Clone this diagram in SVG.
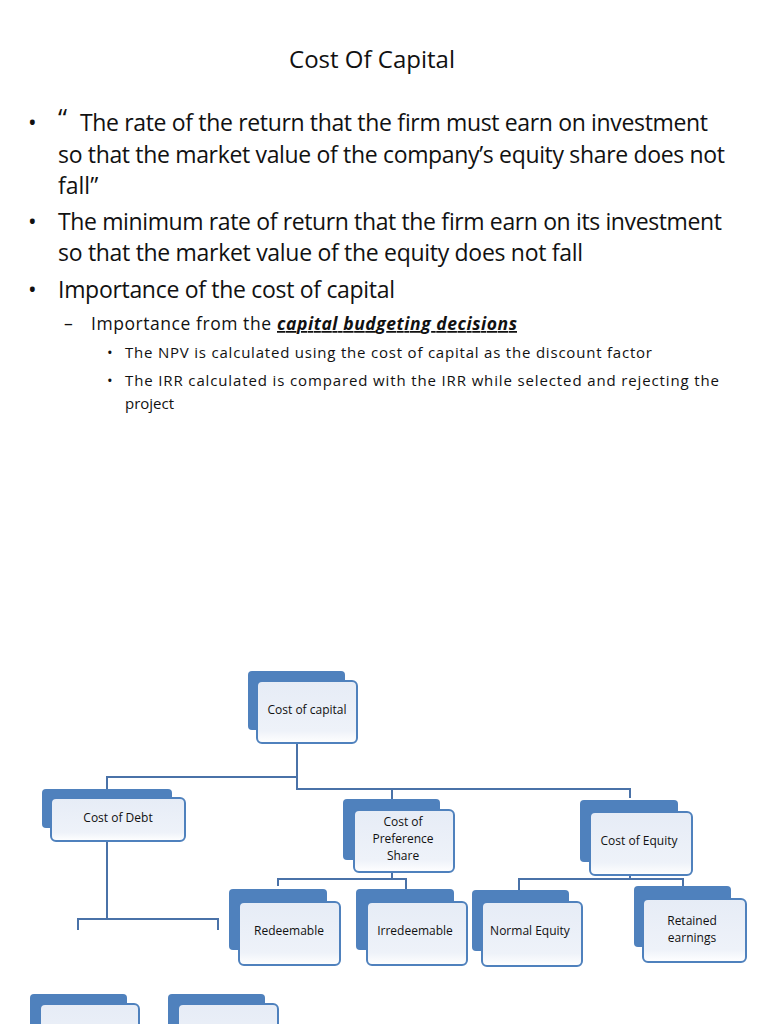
<svg xmlns="http://www.w3.org/2000/svg" width="768" height="1024" viewBox="0 0 768 1024">
<defs>
<linearGradient id="g" x1="0" y1="0" x2="0" y2="1"><stop offset="0" stop-color="#e6ecf6"/><stop offset="0.8" stop-color="#eef2f9"/><stop offset="1" stop-color="#ffffff"/></linearGradient>
</defs>
<style>
text{font-family:"Open Sans","Liberation Sans",sans-serif;fill:#111}
.t{font-size:23px}
.s{font-size:17.5px}
.ss{font-size:15px}
.b{fill:#4f81bd;stroke:none}
.f{fill:url(#g);stroke:#4f81bd;stroke-width:2}
.n{font-size:12px;text-anchor:middle}
.c{fill:none;stroke:#4a72a8;stroke-width:2}
</style>
<rect width="768" height="1024" fill="#fff"/>
<text x="372" y="68" font-size="24" text-anchor="middle">Cost Of Capital</text>
<g class="t">
<text x="28" y="131">•</text>
<text x="58" y="131"><tspan font-size="26" dy="-4">“</tspan><tspan dy="4" textLength="628" x="80">The rate of the return that the firm must earn on investment</tspan></text>
<text x="58" y="163" textLength="667">so that the market value of the company’s equity share does not</text>
<text x="58" y="194">fall”</text>
<text x="28" y="230">•</text>
<text x="58" y="230" textLength="664">The minimum rate of return that the firm earn on its investment</text>
<text x="58" y="261" textLength="525">so that the market value of the equity does not fall</text>
<text x="28" y="298">•</text>
<text x="58" y="298" textLength="337">Importance of the cost of capital</text>
</g>
<text class="s" x="64" y="330">–</text>
<text class="s" x="91" y="330" textLength="180">Importance from the</text>
<text class="s" x="277" y="330" font-weight="bold" font-style="italic" text-decoration="underline" textLength="240">capital budgeting decisions</text>
<text class="ss" x="107" y="358">•</text>
<text class="ss" x="125" y="358" textLength="527">The NPV is calculated using the cost of capital as the discount factor</text>
<text class="ss" x="107" y="386">•</text>
<text class="ss" x="125" y="386" textLength="594">The IRR calculated is compared with the IRR while selected and rejecting the</text>
<text class="ss" x="125" y="409">project</text>
<g id="connectors">
<path class="c" d="M297 743V790M107 790V777H297M297 789H630V798M392 789V799"/>
<path class="c" d="M392 872V879M278 886V879H406V889"/>
<path class="c" d="M630 875V879M519 890V879H683V886"/>
<path class="c" d="M107 841V919M78 930V919H218V930"/>
</g>
<g id="n-capital"><rect class="b" x="248" y="671" width="97" height="59" rx="4"/><rect class="f" x="257" y="681" width="100" height="62" rx="5"/><text class="n" x="307" y="714">Cost of capital</text></g>
<g id="n-debt"><rect class="b" x="42" y="789" width="130" height="39" rx="4"/><rect class="f" x="51" y="798" width="134" height="43" rx="5"/><text class="n" x="118" y="822">Cost of Debt</text></g>
<g id="n-pref"><rect class="b" x="343" y="799" width="97" height="61" rx="4"/><rect class="f" x="354" y="810" width="100" height="62" rx="5"/><text class="n" x="403" y="826">Cost of</text><text class="n" x="403" y="843">Preference</text><text class="n" x="403" y="860">Share</text></g>
<g id="n-equity"><rect class="b" x="580" y="800" width="98" height="62" rx="4"/><rect class="f" x="590" y="812" width="102" height="63" rx="5"/><text class="n" x="639" y="845">Cost of Equity</text></g>
<g id="n-red"><rect class="b" x="229" y="889" width="98" height="61" rx="4"/><rect class="f" x="239" y="902" width="101" height="63" rx="5"/><text class="n" x="289" y="935">Redeemable</text></g>
<g id="n-irred"><rect class="b" x="356" y="889" width="98" height="61" rx="4"/><rect class="f" x="367" y="902" width="100" height="63" rx="5"/><text class="n" x="415" y="935">Irredeemable</text></g>
<g id="n-normal"><rect class="b" x="472" y="890" width="97" height="61" rx="4"/><rect class="f" x="482" y="902" width="100" height="64" rx="5"/><text class="n" x="530" y="935">Normal Equity</text></g>
<g id="n-retained"><rect class="b" x="634" y="886" width="97" height="61" rx="4"/><rect class="f" x="643" y="899" width="103" height="63" rx="5"/><text class="n" x="692" y="925">Retained</text><text class="n" x="692" y="942">earnings</text></g>
<g id="n-d1"><rect class="b" x="30" y="994" width="97" height="61" rx="4"/><rect class="f" x="40" y="1004" width="99" height="63" rx="5"/></g>
<g id="n-d2"><rect class="b" x="168" y="994" width="97" height="61" rx="4"/><rect class="f" x="178" y="1004" width="100" height="63" rx="5"/></g>
</svg>
